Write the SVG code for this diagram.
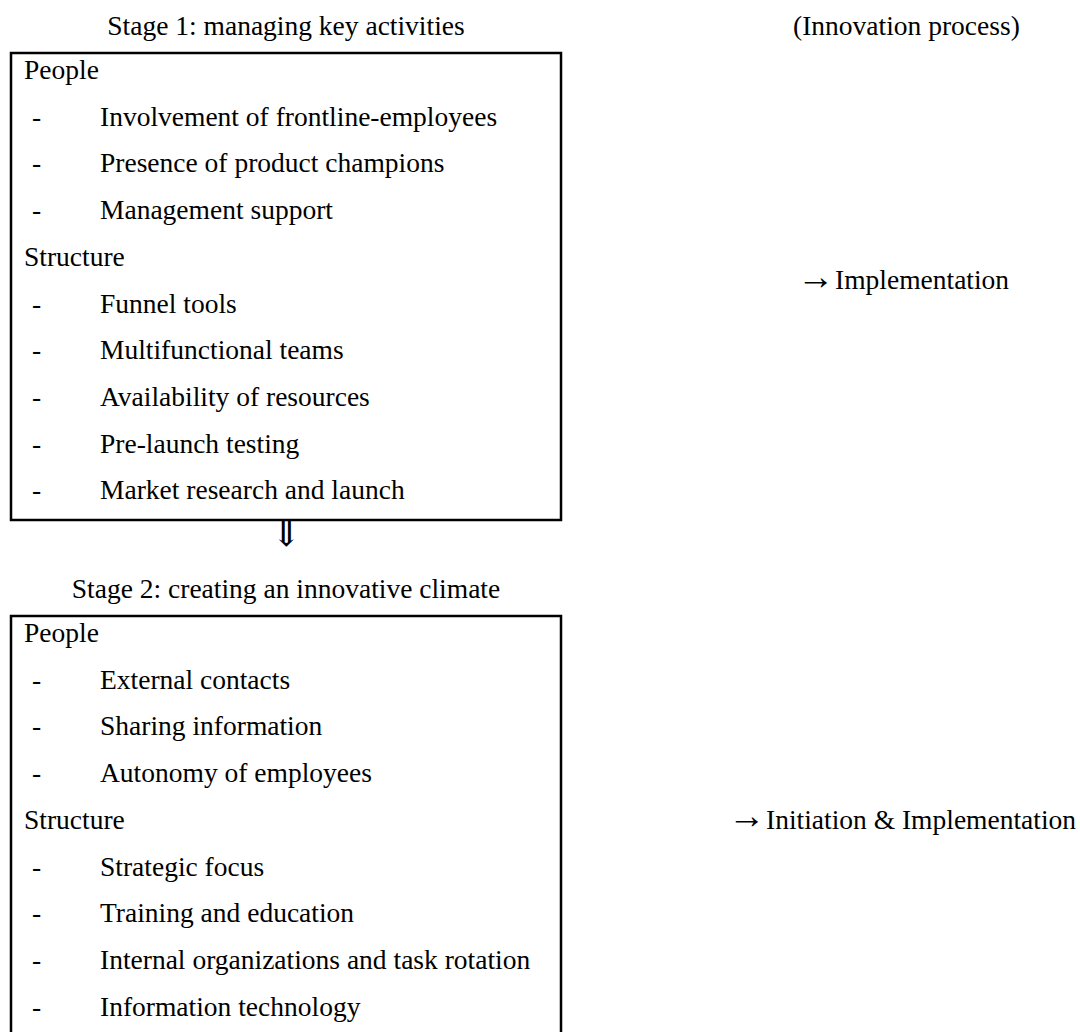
<svg xmlns="http://www.w3.org/2000/svg" width="1080" height="1032" viewBox="0 0 1080 1032">
<style>
text{font-family:"Liberation Serif","Times New Roman","DejaVu Serif",serif;font-size:27.5px;fill:#000}
.box{fill:none;stroke:#000;stroke-width:2.5}
.mid{text-anchor:middle}
.arr{font-size:37px}
</style>
<rect width="1080" height="1032" fill="#fff"/>
<g id="stage1-title"><text class="mid" x="286" y="35">Stage 1: managing key activities</text></g>
<g id="process-title"><text x="793" y="35">(Innovation process)</text></g>
<g id="stage1">
<rect class="box" x="11" y="53" width="550" height="467"/>
<text x="24" y="79">People</text>
<text x="32" y="125.7">-</text><text x="100" y="125.7">Involvement of frontline-employees</text>
<text x="32" y="172.4">-</text><text x="100" y="172.4">Presence of product champions</text>
<text x="32" y="219.1">-</text><text x="100" y="219.1">Management support</text>
<text x="24" y="265.8">Structure</text>
<text x="32" y="312.5">-</text><text x="100" y="312.5">Funnel tools</text>
<text x="32" y="359.2">-</text><text x="100" y="359.2">Multifunctional teams</text>
<text x="32" y="405.9">-</text><text x="100" y="405.9">Availability of resources</text>
<text x="32" y="452.6">-</text><text x="100" y="452.6">Pre-launch testing</text>
<text x="32" y="499.3">-</text><text x="100" y="499.3">Market research and launch</text>
</g>
<g id="stage1-outcome"><text class="arr" x="797" y="288.5">→</text><text x="835" y="289">Implementation</text></g>
<g id="connectors"><text class="mid" x="286" y="546" style="font-size:36px">⇓</text></g>
<g id="stage2-title"><text class="mid" x="286" y="598">Stage 2: creating an innovative climate</text></g>
<g id="stage2">
<path class="box" d="M11 1040 V616 H561 V1040"/>
<text x="24" y="642">People</text>
<text x="32" y="688.7">-</text><text x="100" y="688.7">External contacts</text>
<text x="32" y="735.4">-</text><text x="100" y="735.4">Sharing information</text>
<text x="32" y="782.1">-</text><text x="100" y="782.1">Autonomy of employees</text>
<text x="24" y="828.8">Structure</text>
<text x="32" y="875.5">-</text><text x="100" y="875.5">Strategic focus</text>
<text x="32" y="922.2">-</text><text x="100" y="922.2">Training and education</text>
<text x="32" y="968.9">-</text><text x="100" y="968.9">Internal organizations and task rotation</text>
<text x="32" y="1015.6">-</text><text x="100" y="1015.6">Information technology</text>
</g>
<g id="stage2-outcome"><text class="arr" x="728" y="828.3">→</text><text x="766" y="828.8">Initiation &amp; Implementation</text></g>
</svg>
